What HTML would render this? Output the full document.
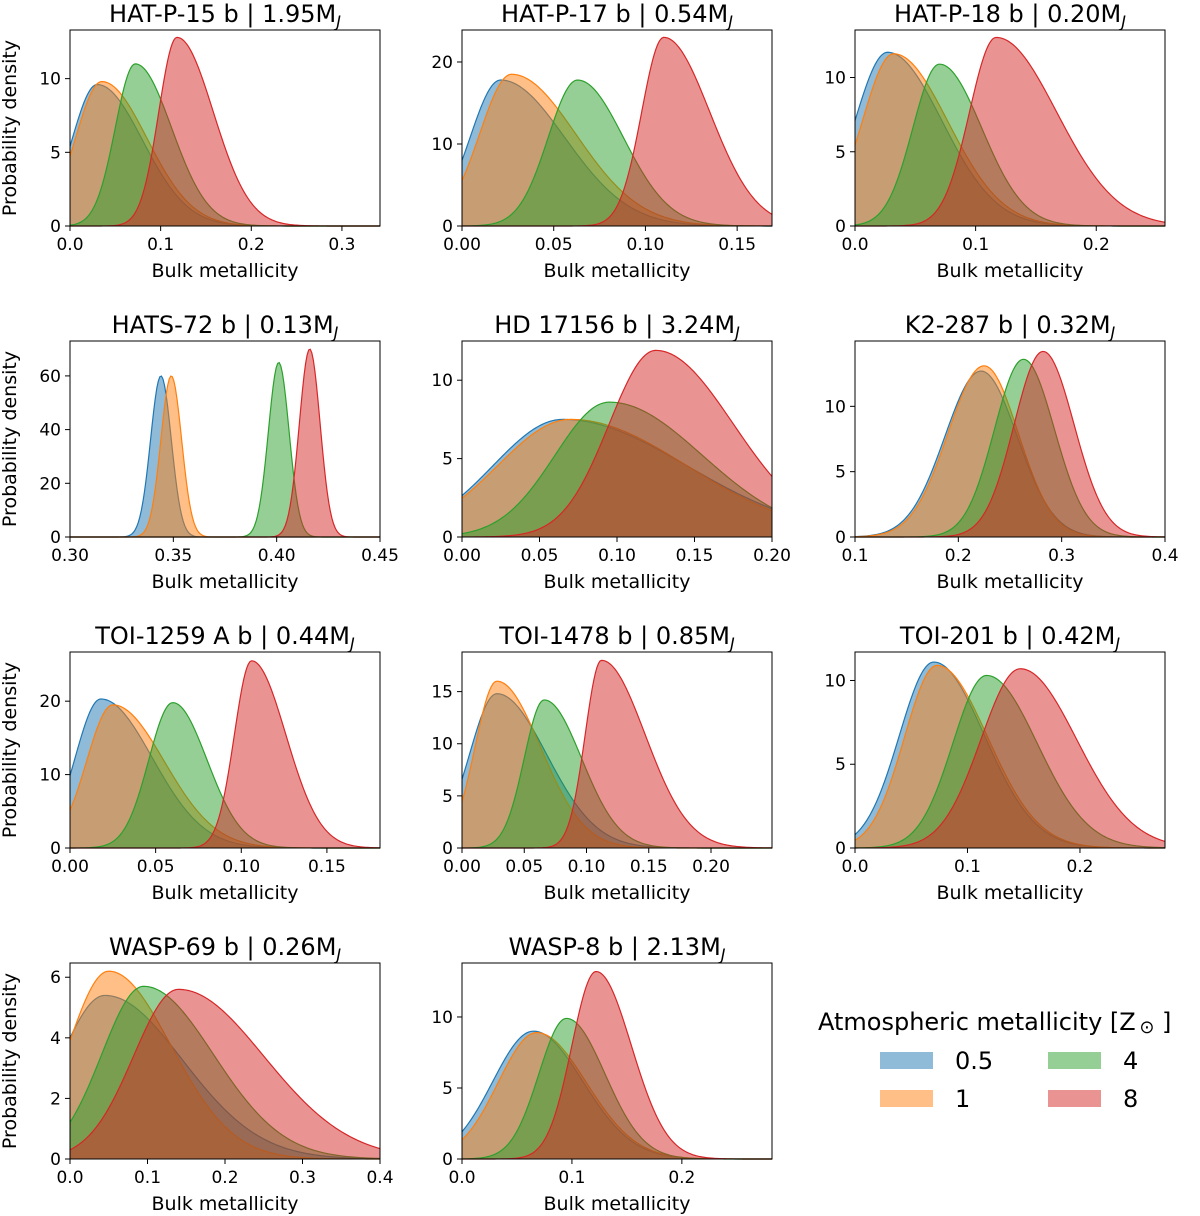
<!DOCTYPE html>
<html><head><meta charset="utf-8">
<style>
body{margin:0;background:#fff;}
svg{display:block;font-family:"DejaVu Sans","Liberation Sans",sans-serif;}
</style></head>
<body>
<svg id="chart" width="1200" height="1216" viewBox="0 0 1200 1216" xmlns="http://www.w3.org/2000/svg"></svg>
<script>
// Panel data
const titles = ["HAT-P-15 b | 1.95M","HAT-P-17 b | 0.54M","HAT-P-18 b | 0.20M","HATS-72 b | 0.13M","HD 17156 b | 3.24M","K2-287 b | 0.32M","TOI-1259 A b | 0.44M","TOI-1478 b | 0.85M","TOI-201 b | 0.42M","WASP-69 b | 0.26M","WASP-8 b | 2.13M"];
const xMin = [0,0,0,0.30,0,0.1,0,0,0,0,0];
const xMax = [0.342,0.169,0.257,0.45,0.20,0.4,0.181,0.249,0.2756,0.4,0.282];
const yMax = [13.3,23.9,13.2,73,12.5,15,26.7,18.8,11.7,6.47,13.8];
const xTicks = [[0,0.1,0.2,0.3],[0,0.05,0.1,0.15],[0,0.1,0.2],[0.3,0.35,0.4,0.45],[0,0.05,0.1,0.15,0.2],[0.1,0.2,0.3,0.4],[0,0.05,0.1,0.15],[0,0.05,0.1,0.15,0.2],[0,0.1,0.2],[0,0.1,0.2,0.3,0.4],[0,0.1,0.2]];
const xTickLabels = [["0.0","0.1","0.2","0.3"],["0.00","0.05","0.10","0.15"],["0.0","0.1","0.2"],["0.30","0.35","0.40","0.45"],["0.00","0.05","0.10","0.15","0.20"],["0.1","0.2","0.3","0.4"],["0.00","0.05","0.10","0.15"],["0.00","0.05","0.10","0.15","0.20"],["0.0","0.1","0.2"],["0.0","0.1","0.2","0.3","0.4"],["0.0","0.1","0.2"]];
const yTicks = [[0,5,10],[0,10,20],[0,5,10],[0,20,40,60],[0,5,10],[0,5,10],[0,10,20],[0,5,10,15],[0,5,10],[0,2,4,6],[0,5,10]];
// Series: per panel, [blue(0.5), orange(1), green(4), red(8)]
const modes = [[0.03,0.035,0.072,0.118],[0.021,0.027,0.063,0.11],[0.027,0.032,0.07,0.117],[0.344,0.349,0.401,0.416],[0.065,0.07,0.095,0.125],[0.222,0.225,0.263,0.282],[0.018,0.025,0.06,0.106],[0.028,0.028,0.066,0.112],[0.07,0.073,0.117,0.147],[0.045,0.05,0.095,0.14],[0.065,0.068,0.095,0.122]];
const peaks = [[9.6,9.8,11,12.8],[17.8,18.5,17.8,23],[11.7,11.6,10.9,12.7],[60,60,65,70],[7.5,7.5,8.6,11.9],[12.7,13.1,13.6,14.2],[20.3,19.5,19.8,25.5],[14.8,16,14.2,18],[11.1,10.9,10.3,10.7],[5.4,6.2,5.7,5.6],[9,8.9,9.9,13.2]];
const sigL = [[0.028,0.029,0.022,0.02],[0.0166,0.0174,0.016,0.012],[0.027,0.026,0.022,0.022],[0.005,0.005,0.005,0.005],[0.045,0.047,0.035,0.03],[0.035,0.035,0.028,0.028],[0.015,0.0153,0.014,0.01],[0.022,0.0175,0.016,0.013],[0.0305,0.029,0.03,0.035],[0.058,0.052,0.054,0.058],[0.037,0.035,0.025,0.022]];
const sigR = [[0.05,0.05,0.04,0.04],[0.035,0.035,0.025,0.025],[0.045,0.045,0.035,0.05],[0.005,0.005,0.005,0.005],[0.08,0.075,0.06,0.05],[0.035,0.033,0.03,0.03],[0.03,0.03,0.02,0.02],[0.04,0.035,0.03,0.035],[0.045,0.045,0.045,0.05],[0.1,0.08,0.09,0.11],[0.045,0.045,0.035,0.032]];
const colors = ["#1f77b4","#ff7f0e","#2ca02c","#d62728"];
const legendLabels = ["0.5","1","4","8"];

const NS = "http://www.w3.org/2000/svg";
const svg = document.getElementById("chart");
function mk(tag, attrs, parent){const e=document.createElementNS(NS,tag);for(const k in attrs)e.setAttribute(k,attrs[k]);(parent||svg).appendChild(e);return e;}
const colX = [70,462,855], rowY = [30,341,652,963], W = 310, H = 196;

function density(x,m,p,sl,sr){const s=x<m?sl:sr;return p*Math.exp(-(x-m)*(x-m)/(2*s*s));}

titles.forEach((t,i)=>{
  const L = colX[i%3], T = rowY[Math.floor(i/3)];
  const g = mk("g",{});
  
  
  const xs = v => L + (v - xMin[i])/(xMax[i]-xMin[i])*W;
  const ys = v => T + H - v/yMax[i]*H;
  // curves
  for(let s=0;s<4;s++){
    let d = "M"+xs(xMin[i]).toFixed(2)+","+ys(0).toFixed(2);
    let line = "";
    const N=200;
    for(let k=0;k<=N;k++){
      const xv = xMin[i] + (xMax[i]-xMin[i])*k/N;
      const yv = density(xv,modes[i][s],peaks[i][s],sigL[i][s],sigR[i][s]);
      const pt = xs(xv).toFixed(2)+","+ys(yv).toFixed(2);
      d += " L"+pt; line += (k?" L":"M")+pt;
    }
    d += " L"+xs(xMax[i]).toFixed(2)+","+ys(0).toFixed(2)+" Z";
    const f = mk("path",{d:d,fill:colors[s],"fill-opacity":0.5,stroke:"none"},g);
    
    
    const ln = mk("path",{d:line,fill:"none",stroke:colors[s],"stroke-width":1.2},g);
    
    
  }
  const fr = mk("rect",{x:L,y:T,width:W,height:H,fill:"none",stroke:"#000","stroke-width":1},g);
  
  
  xTicks[i].forEach((v,k)=>{
    const x=xs(v);
    mk("line",{x1:x,x2:x,y1:T+H,y2:T+H+5,stroke:"#000"},g);
    const tx=mk("text",{x:x,y:T+H+24,"font-size":17,"text-anchor":"middle"},g);
    tx.textContent=xTickLabels[i][k];
    
    
  });
  yTicks[i].forEach(v=>{
    const y=ys(v);
    mk("line",{x1:L-5,x2:L,y1:y,y2:y,stroke:"#000"},g);
    const tx=mk("text",{x:L-9,y:y+6,"font-size":17,"text-anchor":"end"},g);
    tx.textContent=String(v);
    
    
  });
  const xl=mk("text",{x:L+W/2,y:T+H+51,"font-size":19,"text-anchor":"middle"},g);
  xl.textContent="Bulk metallicity";
  
  
  if(i%3===0){
    const yl=mk("text",{x:0,y:0,"font-size":19,"text-anchor":"middle",transform:"translate(16,"+(T+H/2)+") rotate(-90)"},g);
    yl.textContent="Probability density";
    
    
  }
  const tt=mk("text",{x:L+W/2,y:T-8,"font-size":24,"text-anchor":"middle"},g);
  tt.textContent=t;
  const sub=mk("tspan",{"font-size":16,"font-style":"italic",dy:5},tt);
  sub.textContent="J";
  
  
});

// Legend
const lg = mk("g",{});


const lt = mk("text",{x:818,y:1030,"font-size":24},lg);
lt.textContent="Atmospheric metallicity [Z";
const od = mk("tspan",{"font-size":18,dy:3},lt); od.textContent="\u2009\u2299";
const cb = mk("tspan",{dy:-3},lt); cb.textContent=" ]";


const lx=[880,1048], ly=[1052,1090];
legendLabels.forEach((lab,s)=>{
  const cx=lx[Math.floor(s/2)], cy=ly[s%2];
  const r=mk("rect",{x:cx,y:cy,width:53,height:17,fill:colors[s],"fill-opacity":0.5},lg);
  
  
  const tx=mk("text",{x:cx+75,y:cy+17,"font-size":24},lg);
  tx.textContent=lab;
  
  
});
</script>
</body></html>
